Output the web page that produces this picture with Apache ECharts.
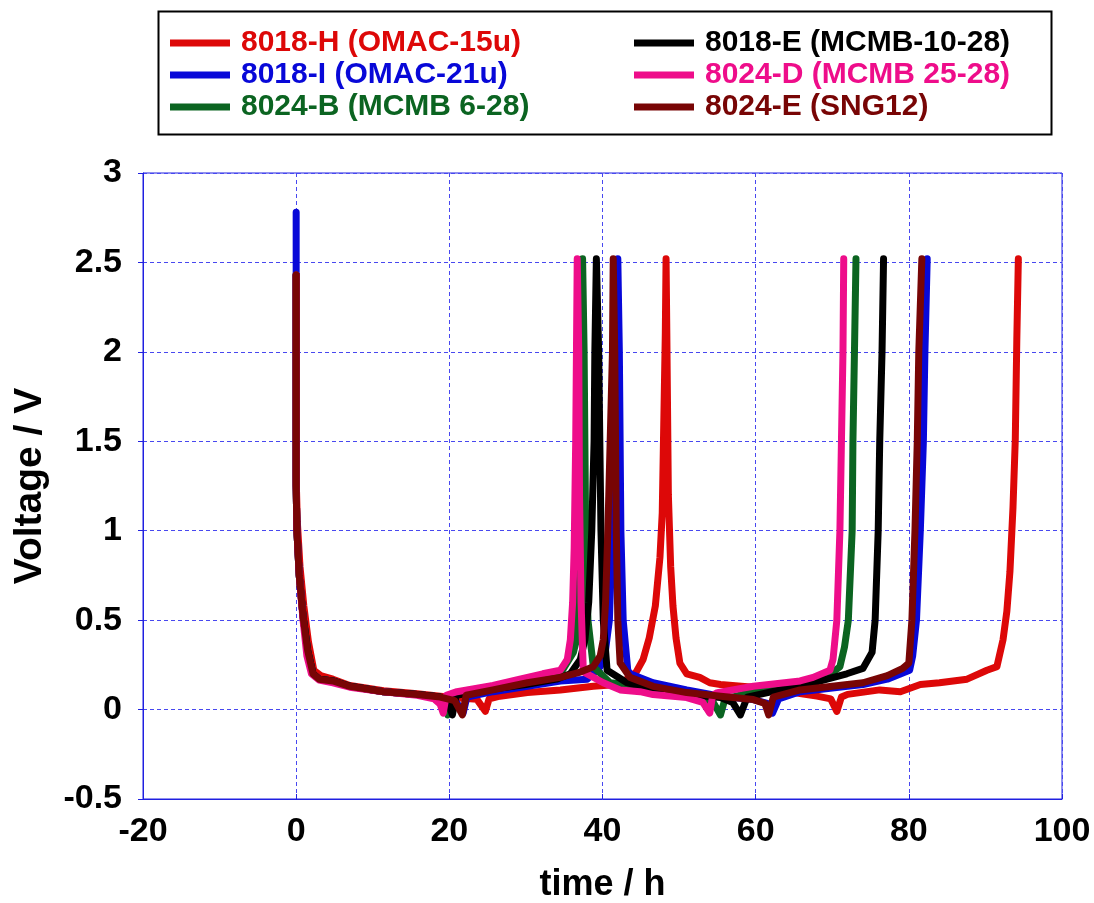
<!DOCTYPE html>
<html>
<head>
<meta charset="utf-8">
<script src="https://cdn.jsdelivr.net/npm/echarts@6/dist/echarts.min.js"></script>
<style>
html,body{margin:0;padding:0;background:#fff;}
#chart{width:1094px;height:903px;}
</style>
</head>
<body>
<div id="chart"></div>
<script>
// ---- Data (time in h, voltage in V) ----
const xTicks = [-20, 0, 20, 40, 60, 80, 100];
const yTicks = [-0.5, 0, 0.5, 1, 1.5, 2, 2.5, 3];

const seriesNames = [
  '8018-H (OMAC-15u)', '8018-I (OMAC-21u)', '8024-B (MCMB 6-28)',
  '8018-E (MCMB-10-28)', '8024-D (MCMB 25-28)', '8024-E (SNG12)'
];

// 8018-H (OMAC-15u)
const h_t = [0, 0, 0.15, 0.5, 1.0, 1.6, 2.3, 3.2, 4.8, 7, 11.4, 15.8, 18.8, 20.5, 23.6, 24.7, 25.2, 26.6, 30.2, 34.5, 38.8, 41.9, 43.2, 44.4, 45.3, 46.1, 46.9, 47.5, 47.8, 48.0, 48.2, 48.3, 48.4, 48.6, 48.9, 49.2, 49.6, 50.1, 51.0, 52.7, 54.0, 55.4, 59.7, 63.0, 65.8, 68.0, 69.8, 70.6, 71.2, 72.0, 76.2, 78.9, 81.5, 84.0, 87.6, 90.2, 91.5, 92.3, 92.8, 93.2, 93.6, 93.9, 94.1, 94.3];
const h_v = [2.43, 1.3, 1.05, 0.8, 0.58, 0.38, 0.22, 0.19, 0.17, 0.135, 0.105, 0.088, 0.075, 0.068, 0.057, -0.01, 0.06, 0.075, 0.095, 0.11, 0.13, 0.14, 0.17, 0.21, 0.28, 0.4, 0.58, 0.85, 1.1, 1.6, 2.1, 2.52, 2.1, 1.2, 0.8, 0.58, 0.4, 0.26, 0.2, 0.18, 0.15, 0.14, 0.125, 0.11, 0.09, 0.075, 0.06, -0.01, 0.07, 0.085, 0.11, 0.1, 0.14, 0.15, 0.17, 0.22, 0.24, 0.39, 0.55, 0.77, 1.13, 1.51, 2.07, 2.52];

// 8018-I (OMAC-21u)
const i_t = [0, 0, 0.1, 0.4, 0.9, 1.5, 2.2, 3.0, 4.8, 7, 11.4, 15.8, 18.8, 20.8, 21.8, 22.3, 25.7, 30.2, 34.5, 38.0, 39.7, 40.3, 40.9, 41.3, 41.6, 41.8, 42.0, 42.2, 42.4, 42.7, 43.3, 43.6, 46.6, 51.0, 55.4, 59.7, 61.5, 62.2, 63.0, 65.8, 70.0, 74.0, 77.2, 80.1, 80.5, 81.0, 81.5, 81.9, 82.1, 82.4];
const i_v = [2.78, 1.25, 1.0, 0.75, 0.52, 0.33, 0.2, 0.17, 0.16, 0.13, 0.1, 0.084, 0.07, 0.05, -0.02, 0.07, 0.1, 0.13, 0.16, 0.17, 0.24, 0.3, 0.5, 1.0, 1.5, 2.0, 2.52, 2.0, 1.0, 0.5, 0.22, 0.2, 0.15, 0.11, 0.075, 0.056, 0.035, -0.02, 0.06, 0.1, 0.12, 0.14, 0.17, 0.22, 0.3, 0.5, 1.0, 1.5, 2.0, 2.52];

// 8024-B (MCMB 6-28)
const b_t = [0, 0, 0.1, 0.4, 0.9, 1.5, 2.2, 3.0, 4.8, 7, 11.4, 15.8, 18.8, 19.3, 19.8, 20.3, 25.0, 30.0, 34.5, 36.2, 36.6, 36.9, 37.1, 37.2, 37.3, 37.4, 37.6, 37.8, 38.1, 38.8, 41.0, 44.9, 46.6, 51.0, 54.4, 55.4, 56.0, 58.9, 63.2, 67.5, 70.1, 71.0, 71.6, 72.1, 72.6, 72.7, 72.9, 73.1];
const b_v = [2.43, 1.25, 1.0, 0.75, 0.52, 0.33, 0.2, 0.17, 0.16, 0.13, 0.1, 0.084, 0.07, 0.045, -0.03, 0.08, 0.11, 0.15, 0.2, 0.32, 0.39, 0.6, 0.84, 1.5, 2.0, 2.52, 2.0, 1.0, 0.5, 0.24, 0.15, 0.13, 0.1, 0.08, 0.045, -0.03, 0.06, 0.09, 0.13, 0.16, 0.21, 0.24, 0.35, 0.5, 1.0, 1.5, 2.0, 2.52];

// 8018-E (MCMB-10-28)
const e_t = [0, 0, 0.1, 0.4, 0.9, 1.5, 2.2, 3.0, 4.8, 7, 11.4, 15.8, 18.8, 19.8, 20.4, 20.9, 25.0, 30.0, 34.0, 35.8, 37.1, 37.7, 38.2, 38.6, 38.9, 39.0, 39.2, 39.5, 39.8, 40.1, 40.6, 43.2, 46.6, 51.0, 55.4, 57.0, 58.0, 58.9, 63.2, 67.5, 71.9, 74.0, 75.2, 75.6, 76.0, 76.2, 76.5, 76.7];
const e_v = [2.43, 1.25, 1.0, 0.75, 0.52, 0.33, 0.2, 0.17, 0.16, 0.13, 0.1, 0.084, 0.07, 0.045, -0.03, 0.08, 0.11, 0.14, 0.17, 0.2, 0.28, 0.39, 0.6, 1.0, 1.5, 2.0, 2.52, 2.0, 1.0, 0.5, 0.22, 0.15, 0.11, 0.085, 0.067, 0.04, -0.03, 0.07, 0.11, 0.15, 0.2, 0.23, 0.32, 0.5, 1.0, 1.5, 2.0, 2.52];

// 8024-D (MCMB 25-28)
const d_t = [0, 0, 0.1, 0.4, 0.9, 1.4, 2.0, 3.0, 4.8, 7, 11.4, 15.8, 18.0, 18.8, 19.2, 19.6, 21.0, 25.7, 29.2, 32.2, 34.5, 35.4, 35.8, 36.1, 36.3, 36.5, 36.7, 36.9, 37.0, 37.2, 37.5, 38.4, 40.1, 42.3, 44.9, 46.6, 51.0, 53.1, 54.0, 54.4, 55.0, 59.7, 65.8, 67.5, 69.7, 70.1, 70.6, 71.0, 71.2, 71.4, 71.5];
const d_v = [2.43, 1.25, 1.0, 0.75, 0.5, 0.3, 0.2, 0.165, 0.15, 0.125, 0.1, 0.08, 0.06, 0.03, -0.02, 0.08, 0.1, 0.135, 0.17, 0.2, 0.22, 0.28, 0.39, 0.6, 0.9, 1.5, 2.52, 2.0, 1.2, 0.6, 0.21, 0.19, 0.15, 0.11, 0.1, 0.084, 0.067, 0.04, -0.02, 0.08, 0.095, 0.13, 0.16, 0.18, 0.22, 0.28, 0.5, 1.0, 1.5, 2.0, 2.52];

// 8024-E (SNG12)
const s_t = [0, 0, 0.1, 0.4, 0.9, 1.5, 2.2, 3.0, 4.8, 7, 11.4, 15.8, 18.8, 20.7, 21.7, 22.2, 25.7, 30.2, 34.5, 37.1, 38.8, 39.7, 40.1, 40.4, 40.7, 41.0, 41.3, 41.4, 41.6, 41.8, 42.0, 42.3, 43.6, 46.6, 51.0, 55.4, 59.7, 61.2, 61.7, 62.3, 65.8, 70.0, 74.0, 77.2, 79.2, 80.0, 80.4, 80.8, 81.1, 81.3, 81.7];
const s_v = [2.43, 1.25, 1.0, 0.75, 0.52, 0.33, 0.2, 0.17, 0.16, 0.13, 0.1, 0.084, 0.07, 0.05, -0.03, 0.08, 0.11, 0.15, 0.18, 0.21, 0.24, 0.3, 0.39, 0.6, 1.0, 1.5, 2.0, 2.52, 2.0, 1.0, 0.5, 0.26, 0.18, 0.13, 0.095, 0.075, 0.056, 0.035, -0.03, 0.07, 0.11, 0.13, 0.15, 0.19, 0.23, 0.26, 0.5, 1.0, 1.5, 2.0, 2.52];

const colors = {
  '8018-H (OMAC-15u)': '#dd0808',
  '8018-I (OMAC-21u)': '#0808d8',
  '8024-B (MCMB 6-28)': '#0b6421',
  '8018-E (MCMB-10-28)': '#000000',
  '8024-D (MCMB 25-28)': '#ee0d8a',
  '8024-E (SNG12)': '#780505'
};

function pairs(t, v) { return t.map((x, k) => [x, v[k]]); }

const dataByName = {
  '8018-H (OMAC-15u)': pairs(h_t, h_v),
  '8018-I (OMAC-21u)': pairs(i_t, i_v),
  '8024-B (MCMB 6-28)': pairs(b_t, b_v),
  '8018-E (MCMB-10-28)': pairs(e_t, e_v),
  '8024-D (MCMB 25-28)': pairs(d_t, d_v),
  '8024-E (SNG12)': pairs(s_t, s_v)
};

// drawing order (last on top)
const drawOrder = ['8018-H (OMAC-15u)', '8018-I (OMAC-21u)', '8024-B (MCMB 6-28)', '8018-E (MCMB-10-28)', '8024-D (MCMB 25-28)', '8024-E (SNG12)'];

const FONT = '"Liberation Sans", Arial, sans-serif';

const chart = echarts.init(document.getElementById('chart'), null, {renderer: 'canvas'});

const rich = {};
seriesNames.forEach((n, k) => { rich['c' + k] = {color: colors[n], fontFamily: FONT, fontWeight: 'bold', fontSize: 30, lineHeight: 32}; });

const legendCommon = {
  orient: 'vertical',
  icon: 'rect',
  itemWidth: 60,
  itemHeight: 7,
  itemGap: 0,
  padding: 0,
  selectedMode: false,
  textStyle: {fontFamily: FONT, fontWeight: 'bold', fontSize: 30, lineHeight: 32, padding: [0, 0, 0, 6], rich: rich},
  formatter: function (n) { return '{c' + seriesNames.indexOf(n) + '|' + n + '}'; }
};

chart.setOption({
  animation: false,
  backgroundColor: '#ffffff',
  grid: {left: 143, right: 32, top: 173, bottom: 104, show: true, borderColor: '#2020e0', borderWidth: 1,
    containLabel: false, outerBoundsMode: 'none'},
  graphic: [{
    type: 'rect', left: 156, top: 9, z: 0,
    shape: {width: 893, height: 123},
    style: {fill: 'none', stroke: '#000', lineWidth: 2}
  }],
  legend: [
    Object.assign({}, legendCommon, {left: 170, top: 27, data: seriesNames.slice(0, 3)}),
    Object.assign({}, legendCommon, {left: 634, top: 27, data: seriesNames.slice(3, 6)})
  ],
  xAxis: {
    type: 'value', min: -20, max: 100, interval: 20,
    name: 'time / h', nameLocation: 'middle', nameGap: 68,
    nameTextStyle: {fontFamily: FONT, fontWeight: 'bold', fontSize: 36, color: '#000'},
    axisLine: {show: true, onZero: false, lineStyle: {color: '#2020e0', width: 1}},
    axisTick: {show: true, inside: true, length: 5, lineStyle: {color: '#2020e0'}},
    axisLabel: {fontFamily: FONT, fontWeight: 'bold', fontSize: 34, color: '#000', margin: 16,
      formatter: v => xTicks.indexOf(v) >= 0 ? String(v) : ''},
    splitLine: {show: true, lineStyle: {color: '#4848f0', type: [4, 3], width: 1}}
  },
  yAxis: {
    type: 'value', min: -0.5, max: 3, interval: 0.5,
    name: 'Voltage / V', nameLocation: 'middle', nameGap: 93,
    nameTextStyle: {fontFamily: FONT, fontWeight: 'bold', fontSize: 39, color: '#000'},
    axisLine: {show: true, onZero: false, lineStyle: {color: '#2020e0', width: 1}},
    axisTick: {show: true, inside: false, length: 5, lineStyle: {color: '#2020e0'}},
    axisLabel: {fontFamily: FONT, fontWeight: 'bold', fontSize: 34, color: '#000', margin: 21,
      formatter: v => yTicks.indexOf(v) >= 0 ? String(v) : ''},
    splitLine: {show: true, lineStyle: {color: '#4848f0', type: [4, 3], width: 1}}
  },
  series: drawOrder.map(n => ({
    name: n,
    type: 'line',
    data: dataByName[n],
    showSymbol: false,
    symbol: 'none',
    smooth: false,
    lineStyle: {color: colors[n], width: 7, join: 'round', cap: 'round'},
    itemStyle: {color: colors[n]},
    emphasis: {disabled: true},
    clip: true
  }))
});
</script>
</body>
</html>
